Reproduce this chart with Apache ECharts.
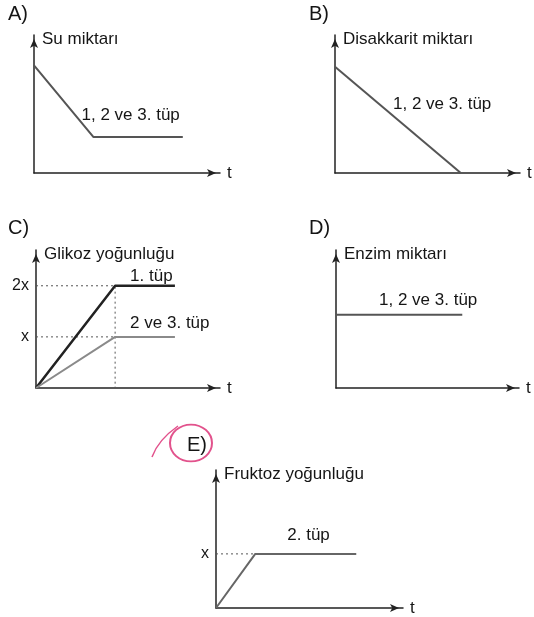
<!DOCTYPE html>
<html>
<head>
<meta charset="utf-8">
<script src="https://cdn.jsdelivr.net/npm/echarts@6/dist/echarts.min.js"></script>
<style>
  html, body { margin: 0; padding: 0; background: #fff; }
  #chart { width: 534px; height: 617px; }
</style>
</head>
<body>
<div id="chart"></div>
<script>
// A) Su miktari
var tA = [0, 3.2, 8.0];
var suMiktari = [7.8, 2.6, 2.6];
// B) Disakkarit miktari
var tB = [0, 6.8];
var disakkarit = [7.7, 0];
// C) Glikoz yogunlugu (x, 2x)
var tC = [0, 4.3, 7.55];
var glikoz1 = [0, 2, 2];
var glikoz23 = [0, 1, 1];
// D) Enzim miktari
var tD = [0, 6.9];
var enzim = [5.3, 5.3];
// E) Fruktoz yogunlugu
var tE = [0, 2.1, 7.5];
var fruktoz2 = [0, 1, 1];

var panelNames = ['A)', 'B)', 'C)', 'D)', 'E)'];
var yNames = ['Su miktarı', 'Disakkarit miktarı', 'Glikoz yoğunluğu', 'Enzim miktarı', 'Fruktoz yoğunluğu'];
// tick labels per panel (only C and E have them)
var yTickLabels = [null, null, { 1: 'x', 2: '2x' }, null, { 1: 'x' }];

var txt = '#151515';
var axisColor = '#222';
var font = 'Liberation Sans';

function pairs(xs, ys) {
  return xs.map(function (x, i) { return [x, ys[i]]; });
}

var grids = [
  { left: 34, top: 35, width: 186, height: 138 },
  { left: 335, top: 35, width: 185, height: 138 },
  { left: 36, top: 250, width: 184, height: 138 },
  { left: 336, top: 250, width: 183, height: 138 },
  { left: 216, top: 470, width: 187, height: 138 }
];
var yMax = [10, 10, 2.7, 10, 2.55];
var titlePos = [[8, 4], [309, 4], [8, 218], [309, 218], [187, 435]];

var axisLine = {
  show: true,
  lineStyle: { color: axisColor, width: 1.5 },
  symbol: ['none', 'arrow'],
  symbolSize: [6, 9],
  symbolOffset: [0, -4]
};

var xAxes = grids.map(function (g, i) {
  return {
    type: 'value', gridIndex: i, min: 0, max: 10,
    name: 't', nameLocation: 'end', nameGap: 7,
    nameTextStyle: { fontSize: 17, color: txt, fontFamily: font, verticalAlign: 'middle' },
    axisLine: axisLine,
    axisTick: { show: false },
    axisLabel: { show: false },
    splitLine: { show: false }
  };
});

var yAxes = grids.map(function (g, i) {
  var ticks = yTickLabels[i];
  return {
    type: 'value', gridIndex: i, min: 0, max: yMax[i],
    interval: ticks ? 1 : undefined,
    name: yNames[i], nameLocation: 'end', nameGap: -4,
    nameTextStyle: { fontSize: 17, color: txt, fontFamily: font, align: 'left', verticalAlign: 'middle', padding: [0, 0, 0, 8] },
    axisLine: axisLine,
    axisTick: { show: false },
    axisLabel: {
      show: !!ticks, fontSize: 16, color: txt, fontFamily: font, margin: 7,
      formatter: function (v) { return (ticks && ticks[v]) || ''; }
    },
    splitLine: { show: false }
  };
});

// label tied to a data point, shifted by a pixel offset
function tag(point, text, dx, dy) {
  return {
    symbol: 'circle', symbolSize: 0, silent: true,
    label: { show: true, formatter: '{b}', position: [dx, dy], align: 'left', verticalAlign: 'middle', fontSize: 17, color: txt, fontFamily: font },
    data: [{ name: text, coord: point }]
  };
}

function line(i, data, color, width, mark) {
  var s = {
    type: 'line', xAxisIndex: i, yAxisIndex: i, data: data,
    symbol: 'none', silent: true, z: 3,
    lineStyle: { color: color, width: width }
  };
  if (mark) s.markPoint = mark;
  return s;
}

function guide(i, data) {
  return {
    type: 'line', xAxisIndex: i, yAxisIndex: i, data: data,
    symbol: 'none', silent: true, z: 2,
    lineStyle: { color: '#555', width: 1, type: [2, 3] }
  };
}

var series = [
  line(0, pairs(tA, suMiktari), '#555', 2, tag([tA[1], suMiktari[1]], '1, 2 ve 3. tüp', -12, -22)),
  line(1, pairs(tB, disakkarit), '#555', 2, tag([tB[0], disakkarit[0]], '1, 2 ve 3. tüp', 58, 38)),
  guide(2, [[0, glikoz1[1]], [tC[1], glikoz1[1]], [tC[1], 0]]),
  guide(2, [[0, glikoz23[1]], [tC[1], glikoz23[1]]]),
  line(2, pairs(tC, glikoz1), '#222', 2.5, tag([tC[1], glikoz1[1]], '1. tüp', 15, -9)),
  line(2, pairs(tC, glikoz23), '#8a8a8a', 2, tag([tC[1], glikoz23[1]], '2 ve 3. tüp', 15, -14)),
  line(3, pairs(tD, enzim), '#555', 2, tag([tD[0], enzim[0]], '1, 2 ve 3. tüp', 43, -15)),
  guide(4, [[0, fruktoz2[1]], [tE[1], fruktoz2[1]]]),
  line(4, pairs(tE, fruktoz2), '#666', 2, tag([tE[1], fruktoz2[1]], '2. tüp', 32, -19))
];

var option = {
  backgroundColor: '#fff',
  animation: false,
  title: panelNames.map(function (n, i) {
    return {
      text: n, left: titlePos[i][0], top: titlePos[i][1], padding: 0,
      textStyle: { fontSize: 20, fontWeight: 'normal', color: txt, fontFamily: font }
    };
  }),
  grid: grids,
  xAxis: xAxes,
  yAxis: yAxes,
  series: series,
  graphic: [
    {
      type: 'circle', shape: { cx: 191, cy: 443, r: 21 },
      scaleY: 0.88, originX: 191, originY: 443,
      style: { fill: 'none', stroke: '#e2528c', lineWidth: 2 }, silent: true
    },
    {
      type: 'bezierCurve',
      shape: { x1: 152, y1: 457, cpx1: 158, cpy1: 440, x2: 178, y2: 426 },
      style: { fill: 'none', stroke: '#e2528c', lineWidth: 1.5 }, silent: true
    }
  ]
};

var chart = echarts.init(document.getElementById('chart'));
chart.setOption(option);
</script>
</body>
</html>
